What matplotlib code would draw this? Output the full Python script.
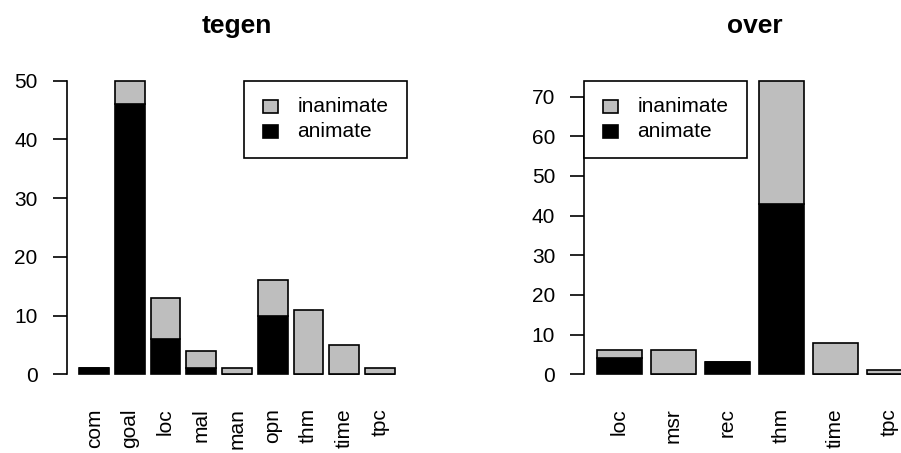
import matplotlib
matplotlib.use("Agg")
import matplotlib.pyplot as plt
import numpy as np
from matplotlib.patches import Rectangle
from matplotlib.transforms import Affine2D

plt.rcParams['font.family'] = ['Liberation Sans', 'DejaVu Sans']

# counts per semantic role, split by animacy
tegen_roles = ["com", "goal", "loc", "mal", "man", "opn", "thm", "time", "tpc"]
tegen_animate = [1, 46, 6, 1, 0, 10, 0, 0, 0]
tegen_inanimate = [0, 4, 7, 3, 1, 6, 11, 5, 1]

over_roles = ["loc", "msr", "rec", "thm", "time", "tpc"]
over_animate = [4, 0, 3, 43, 0, 0]
over_inanimate = [2, 6, 0, 31, 8, 1]

GRAY = "#bebebe"
LW = 1.2
W, H = 901, 453


def draw_legend(ax, x0, y0, side):
    # legend box in pixel units, hung from a data point
    ox, oy = ax.transData.transform((x0, y0))
    bw, bh = 163, 77
    left = -bw if side == "right" else 0
    tr = Affine2D().translate(ox + left, oy)
    ax.add_patch(Rectangle((0, -bh), bw, bh, transform=tr, facecolor="white",
                           edgecolor="black", linewidth=LW, clip_on=False, zorder=5))
    for i, (lab, col) in enumerate([("inanimate", GRAY), ("animate", "black")]):
        cy = -26 - 25 * i
        ax.add_patch(Rectangle((19, cy - 6.5), 15, 13, transform=tr, facecolor=col,
                               edgecolor="black", linewidth=LW, clip_on=False, zorder=6))
        ax.text(53, cy, lab, transform=tr, fontsize=15, va="center", ha="left",
                zorder=6, clip_on=False)


def stacked(ax, title, roles, animate, inanimate, legend_side):
    n = len(roles)
    x = 0.7 + 1.2 * np.arange(n)
    tot = np.array(animate) + np.array(inanimate)
    top = tot.max()
    ax.bar(x, animate, width=1.0, color="black", edgecolor="black", linewidth=LW)
    ax.bar(x, inanimate, width=1.0, bottom=animate, color=GRAY,
           edgecolor="black", linewidth=LW)

    lo, hi = 0.2, 1.2 * n
    ext = 0.04 * (hi - lo)
    ax.set_xlim(lo - ext, hi + ext)
    ax.set_ylim(-0.04 * top, 1.04 * top)

    yt = np.arange(0, top + 1, 10)
    ax.set_yticks(yt)
    ax.set_yticklabels([str(int(v)) for v in yt])
    ax.set_xticks(x)
    ax.set_xticklabels(roles, rotation=90, va="top")

    for s in ["top", "right", "bottom"]:
        ax.spines[s].set_visible(False)
    ax.spines["left"].set_bounds(0, yt[-1])
    ax.spines["left"].set_linewidth(LW)
    ax.tick_params(axis="y", length=10, width=LW, labelsize=15, pad=11)
    ax.tick_params(axis="x", length=0, labelsize=15, pad=16)
    ax.set_title(title, fontsize=19, fontweight="bold", pad=26)

    if legend_side == "right":
        draw_legend(ax, hi + ext, top, "right")
    else:
        draw_legend(ax, lo - ext, top, "left")


fig = plt.figure(figsize=(W / 100, H / 100), dpi=100)
bottom, height = (H - 386) / H, 317 / H
ax1 = fig.add_axes([66.7 / W, bottom, 340.6 / W, height])
ax2 = fig.add_axes([584.4 / W, bottom, 340.2 / W, height])

stacked(ax1, "tegen", tegen_roles, tegen_animate, tegen_inanimate, "right")
stacked(ax2, "over", over_roles, over_animate, over_inanimate, "left")

fig.savefig("out.png", dpi=100)
